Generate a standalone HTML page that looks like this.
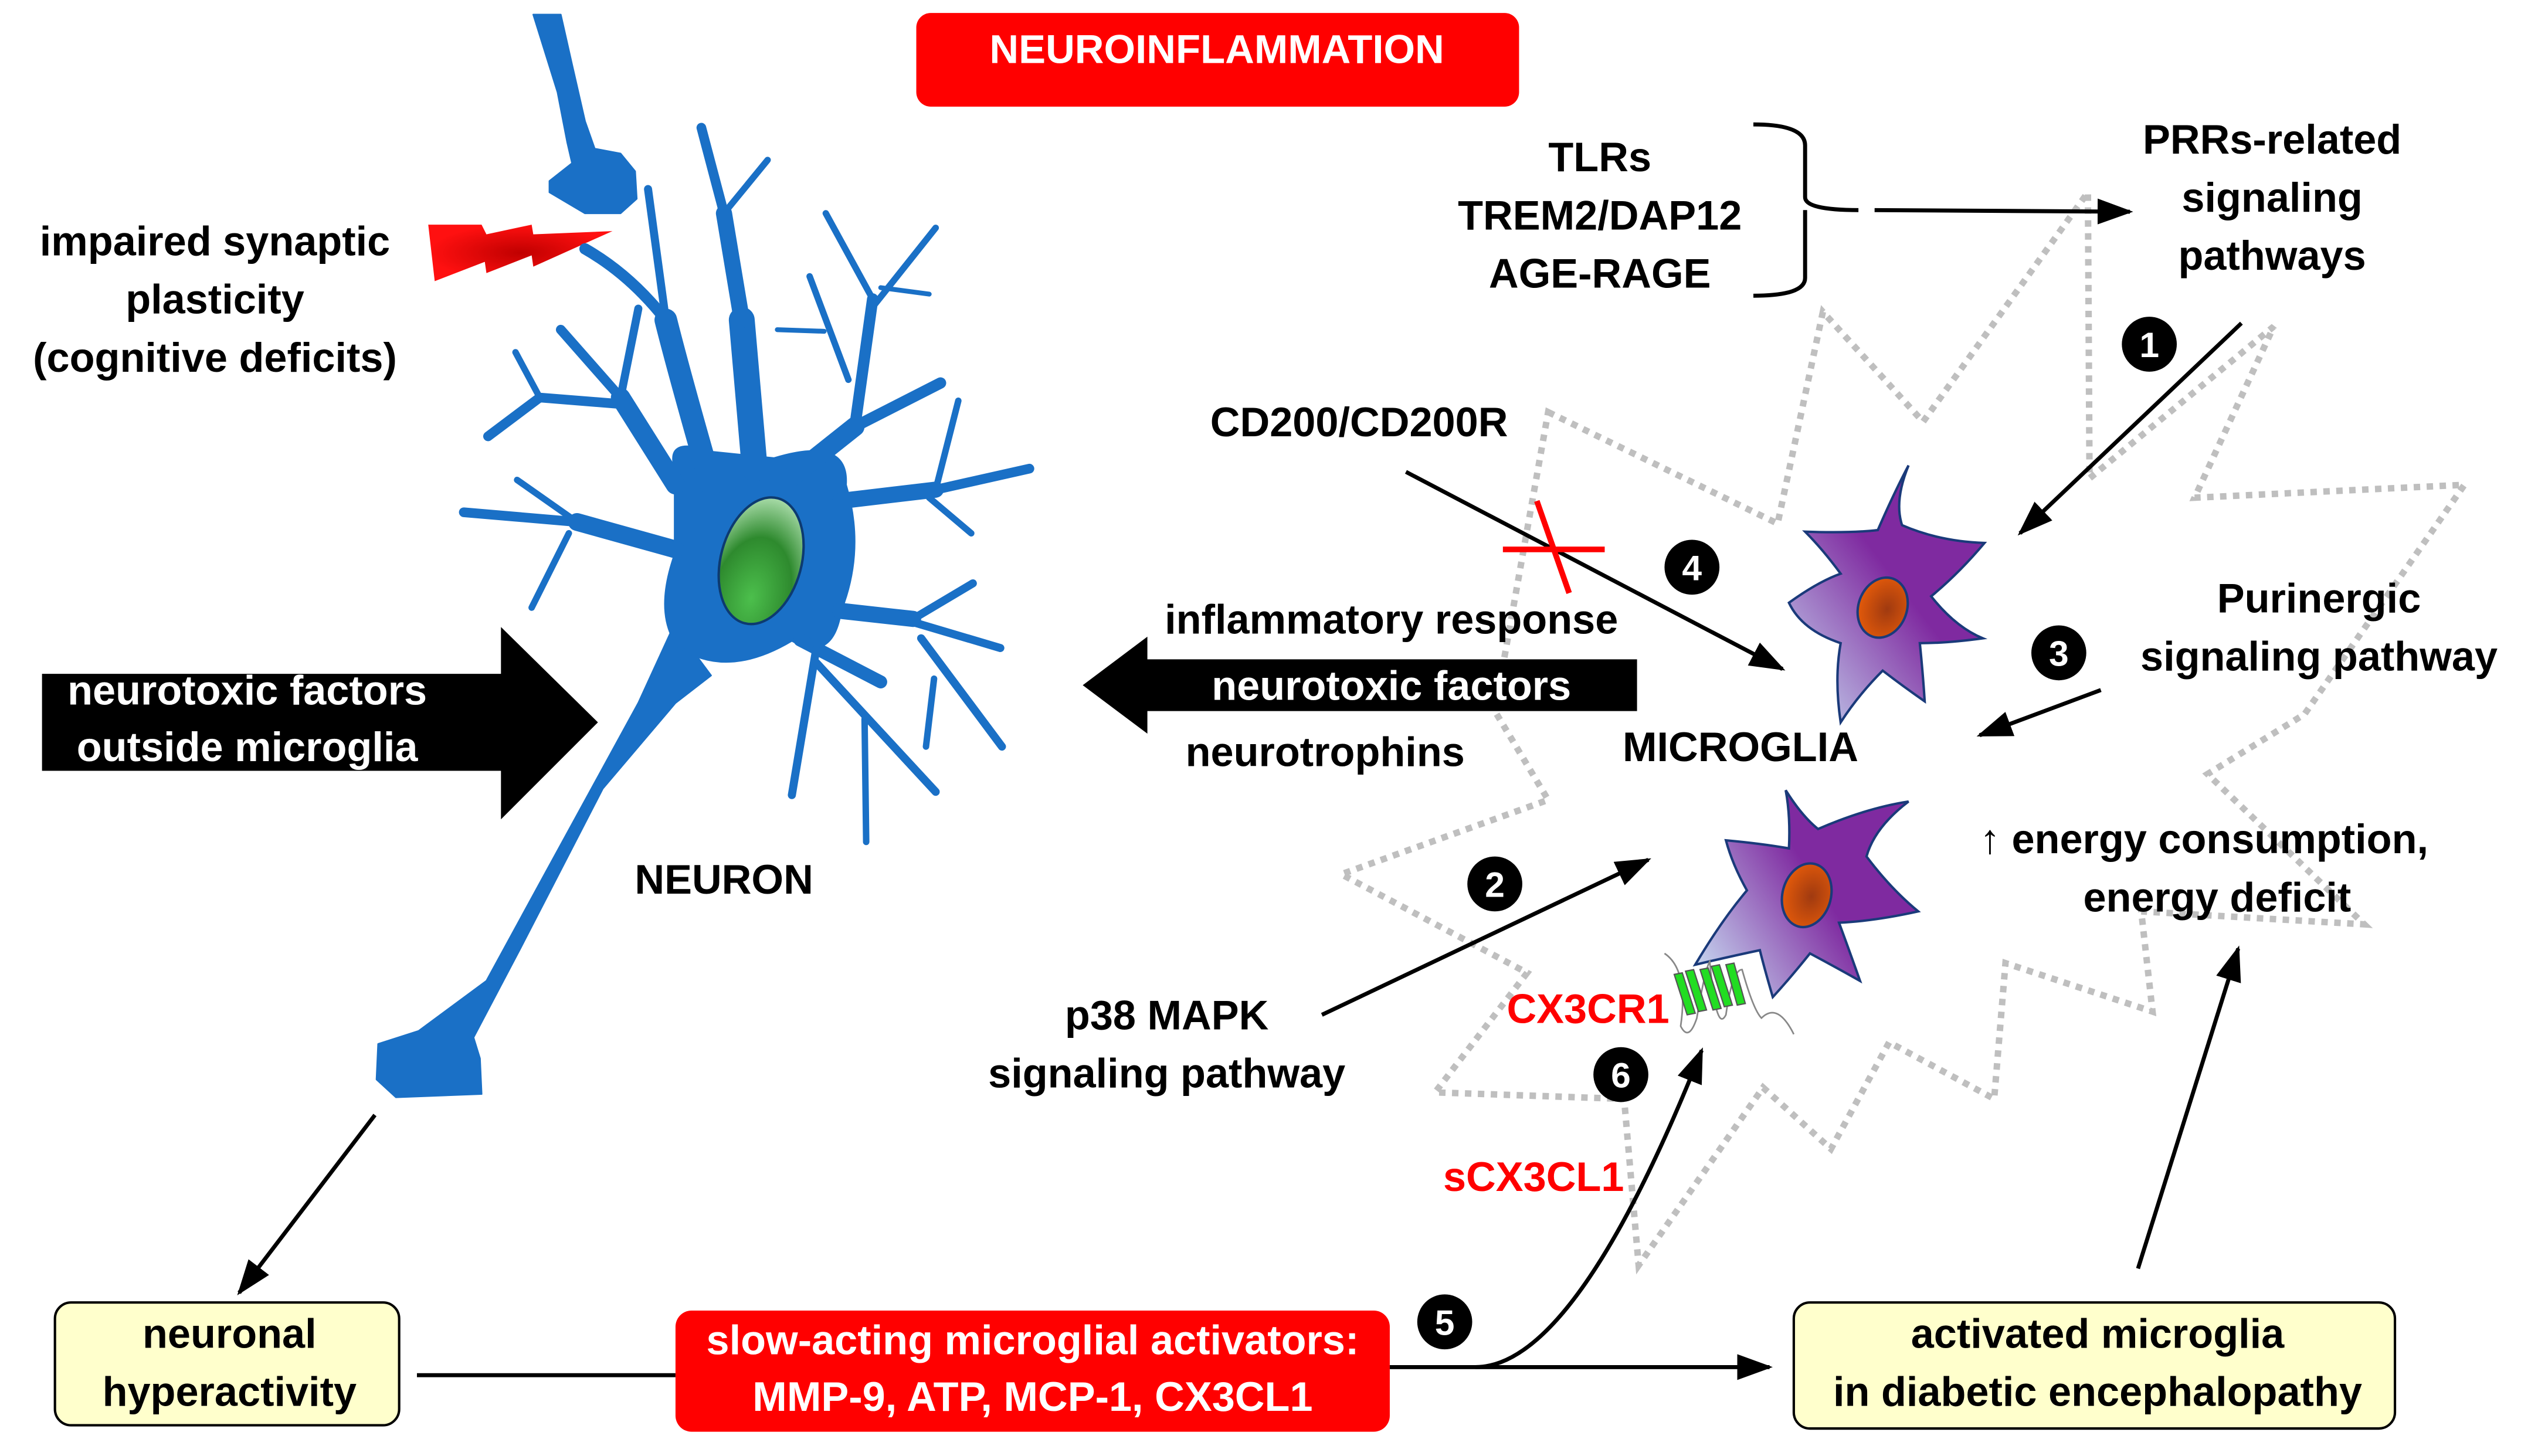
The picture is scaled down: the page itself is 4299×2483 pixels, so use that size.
<!DOCTYPE html>
<html><head><meta charset="utf-8"><style>
html,body{margin:0;padding:0;background:#fff;}
svg{display:block;}
text{font-family:"Liberation Sans",sans-serif;font-weight:bold;}
</style></head><body>
<svg width="4299" height="2483" viewBox="0 0 1560 901" xmlns="http://www.w3.org/2000/svg">
<defs>
<marker id="ah2" markerWidth="22" markerHeight="16" refX="20" refY="8" orient="auto" markerUnits="userSpaceOnUse" viewBox="0 0 22 16">
<path d="M0,0 L22,8 L0,16 z" fill="#000"/></marker>
<linearGradient id="mg" x1="1" y1="0" x2="0" y2="1">
<stop offset="0.45" stop-color="#7f2aa0"/><stop offset="1" stop-color="#c8dcf2"/></linearGradient>
<linearGradient id="mg2" x1="1" y1="0.3" x2="0" y2="0.9">
<stop offset="0.4" stop-color="#7f2aa0"/><stop offset="1" stop-color="#c8dcf2"/></linearGradient>
<radialGradient id="nuc" cx="0.6" cy="0.5" r="0.6"><stop offset="0" stop-color="#a03a10"/><stop offset="1" stop-color="#e35a0a"/></radialGradient>
<radialGradient id="gn" cx="0.5" cy="0.8" r="0.8"><stop offset="0" stop-color="#4cbf4c"/><stop offset="0.6" stop-color="#2e8a2e"/><stop offset="1" stop-color="#a9dca9"/></radialGradient>
<radialGradient id="lg" cx="0.5" cy="0.5" r="0.5"><stop offset="0" stop-color="#c00000"/><stop offset="1" stop-color="#ff1010"/></radialGradient>
</defs>

<polygon points="958,255 1100,324 1128,193 1190,261 1292,119 1293,296 1407,202 1358,308 1525,300 1426,442 1366,479 1463,572 1325,564 1332,626 1241,596 1234,680 1169,645 1133,711 1091,673 1014,783 1005,680 888,676 945,602 830,541 958,495 925,440" fill="none" stroke="#bfbfbf" stroke-width="4" stroke-dasharray="4,4"/>

<rect x="567" y="8" width="373" height="58" rx="9" fill="#ff0000"/>
<text x="753" y="39" font-size="25" fill="#fff" text-anchor="middle">NEUROINFLAMMATION</text>

<g font-size="25.5" text-anchor="middle" fill="#000">
<text x="133" y="158">impaired synaptic</text>
<text x="133" y="194">plasticity</text>
<text x="133" y="230">(cognitive deficits)</text>
<text x="448" y="553">NEURON</text>
</g>

<polygon points="265,139 298,139 301,145 329,139 330,145 379,143 330,165 329,158 301,169 300,162 269,174" fill="url(#lg)"/>

<!-- neuron -->
<g fill="#1a70c6" stroke="#1a70c6" stroke-linecap="round" stroke-linejoin="round">
<polygon points="330,9 347,9 354,40 362,75 368,92 384,95 393,106 394,123 384,132 362,132 340,119 340,112 354,101 351,88 345,57" stroke-width="1"/>
<polygon points="417,387 395,435 337,541 301,607 259,638 234,646 233,668 245,679 298,677 297,655 293,642 323,585 373,488 418,435 440,418" stroke-width="1"/>
<path d="M418,290 Q412,270 440,280 L479,284 Q525,270 523,300 Q535,340 520,378 Q515,410 490,396 Q450,420 420,400 Q405,380 418,343 Z" stroke-width="2"/>
<g fill="none">
<path d="M467,290 L459,198" stroke-width="16"/>
<path d="M459,198 L448,132" stroke-width="10"/>
<path d="M448,132 L434,79" stroke-width="6"/>
<path d="M448,132 L475,99" stroke-width="4"/>
<path d="M440,300 Q420,230 412,198" stroke-width="14"/>
<path d="M412,198 Q390,170 362,154" stroke-width="7"/>
<path d="M412,198 L401,117" stroke-width="5"/>
<path d="M418,300 L384,246" stroke-width="12"/>
<path d="M384,246 L347,204" stroke-width="6"/>
<path d="M384,246 L395,191" stroke-width="5"/>
<path d="M384,250 L334,246 L302,270" stroke-width="6"/>
<path d="M334,246 L319,218" stroke-width="4"/>
<path d="M418,340 L357,323" stroke-width="11"/>
<path d="M357,323 L287,317" stroke-width="6"/>
<path d="M357,323 L320,297" stroke-width="4"/>
<path d="M352,330 L329,376" stroke-width="4"/>
<path d="M490,295 L529,264" stroke-width="12"/>
<path d="M529,264 L582,237" stroke-width="7"/>
<path d="M529,264 L540,185" stroke-width="7"/>
<path d="M540,185 L511,132" stroke-width="4"/>
<path d="M540,190 L579,141" stroke-width="4"/>
<path d="M545,178 L575,182" stroke-width="3"/>
<path d="M525,235 L501,171" stroke-width="4"/>
<path d="M510,205 L481,204" stroke-width="3"/>
<path d="M520,310 L579,303" stroke-width="10"/>
<path d="M579,303 L637,290" stroke-width="6"/>
<path d="M579,303 L593,248" stroke-width="4"/>
<path d="M575,308 L601,330" stroke-width="4"/>
<path d="M520,378 L565,383" stroke-width="10"/>
<path d="M565,383 L602,361" stroke-width="5"/>
<path d="M565,385 L619,401" stroke-width="5"/>
<path d="M570,395 L620,462" stroke-width="5"/>
<path d="M578,420 L573,462" stroke-width="4"/>
<path d="M495,396 L545,422" stroke-width="8"/>
<path d="M505,402 L490,492" stroke-width="5"/>
<path d="M505,410 L579,490" stroke-width="5"/>
<path d="M535,445 L536,521" stroke-width="4"/>
</g>
</g>
<ellipse cx="471" cy="347" rx="25" ry="40" transform="rotate(15 471 347)" fill="url(#gn)" stroke="#0d3a70" stroke-width="1.5"/>

<polygon points="26,417 310,417 310,388 370,447 310,507 310,477 26,477" fill="#000"/>
<text x="153" y="436" font-size="25.5" fill="#fff" text-anchor="middle">neurotoxic factors</text>
<text x="153" y="471" font-size="25.5" fill="#fff" text-anchor="middle">outside microglia</text>

<polygon points="670,424 710,394 710,408 1013,408 1013,440 710,440 710,454" fill="#000"/>
<g font-size="25.5" text-anchor="middle">
<text x="861" y="392">inflammatory response</text>
<text x="861" y="433" fill="#fff">neurotoxic factors</text>
<text x="820" y="474">neurotrophins</text>
<text x="990" y="106">TLRs</text>
<text x="990" y="142">TREM2/DAP12</text>
<text x="990" y="178">AGE-RAGE</text>
<text x="1406" y="95">PRRs-related</text>
<text x="1406" y="131">signaling</text>
<text x="1406" y="167">pathways</text>
<text x="841" y="270">CD200/CD200R</text>
<text x="1435" y="379">Purinergic</text>
<text x="1435" y="415">signaling pathway</text>
<text x="1077" y="471">MICROGLIA</text>
<text x="722" y="637">p38 MAPK</text>
<text x="722" y="673">signaling pathway</text>
<text x="1372" y="564">energy deficit</text>
<text x="1225" y="528" text-anchor="start">↑ energy consumption,</text>
</g>
<text x="1033" y="633" font-size="25.5" fill="#ff0000" text-anchor="end">CX3CR1</text>
<text x="949" y="737" font-size="25.5" fill="#ff0000" text-anchor="middle">sCX3CL1</text>

<path d="M1085,77 Q1117,77 1117,90 L1117,122 Q1117,130 1150,130 M1117,130 Q1117,138 1117,146 L1117,172 Q1117,183 1085,183" fill="none" stroke="#000" stroke-width="2.5"/>
<line x1="1160" y1="130" x2="1318" y2="131" stroke="#000" stroke-width="2.5" marker-end="url(#ah2)"/>

<g stroke="#000" stroke-width="2.5" fill="none" marker-end="url(#ah2)">
<line x1="1387" y1="200" x2="1250" y2="330"/>
<line x1="870" y1="292" x2="1103" y2="414"/>
<line x1="1300" y1="427" x2="1225" y2="455"/>
<line x1="818" y1="628" x2="1020" y2="532"/>
<line x1="1323" y1="785" x2="1385" y2="587"/>
<line x1="232" y1="690" x2="148" y2="800"/>
<line x1="860" y1="846" x2="1095" y2="846"/>
<path d="M913,846 Q975,846 1053,650"/>
</g>
<line x1="258" y1="851" x2="418" y2="851" stroke="#000" stroke-width="2.5"/>

<line x1="930" y1="340" x2="993" y2="340" stroke="#ff0000" stroke-width="3.5"/>
<line x1="951" y1="310" x2="971" y2="367" stroke="#ff0000" stroke-width="3.5"/>

<g font-size="22" text-anchor="middle" fill="#fff">
<circle cx="1330" cy="213" r="17" fill="#000"/><text x="1330" y="221">1</text>
<circle cx="925" cy="547" r="17" fill="#000"/><text x="925" y="555">2</text>
<circle cx="1274" cy="404" r="17" fill="#000"/><text x="1274" y="412">3</text>
<circle cx="1047" cy="351" r="17" fill="#000"/><text x="1047" y="359">4</text>
<circle cx="894" cy="818" r="17" fill="#000"/><text x="894" y="826">5</text>
<circle cx="1003" cy="665" r="17" fill="#000"/><text x="1003" y="673">6</text>
</g>

<path d="M1181,288 Q1172,310 1177,325 Q1200,335 1228,336 Q1212,355 1195,369 Q1210,388 1227,395 Q1205,398 1188,398 Q1190,418 1191,434 Q1178,425 1165,415 Q1150,430 1139,447 Q1135,420 1139,398 Q1115,390 1107,373 Q1125,360 1139,355 Q1128,340 1117,329 Q1145,330 1162,328 Q1172,305 1181,288 Z" fill="url(#mg)" stroke="#1a3a7a" stroke-width="1.5"/>
<ellipse cx="1165" cy="376" rx="15" ry="19" transform="rotate(20 1165 376)" fill="url(#nuc)" stroke="#1a3a7a" stroke-width="1.5"/>

<path d="M1105,489 Q1115,505 1125,513 Q1155,500 1181,496 Q1160,512 1155,530 Q1170,550 1187,564 Q1160,570 1138,571 Q1145,590 1151,607 Q1135,598 1120,590 Q1108,605 1097,617 Q1092,600 1089,588 Q1070,592 1049,597 Q1065,570 1081,551 Q1072,535 1068,520 Q1090,522 1107,525 Q1108,505 1105,489 Z" fill="url(#mg2)" stroke="#1a3a7a" stroke-width="1.5"/>
<ellipse cx="1118" cy="554" rx="15" ry="20" transform="rotate(15 1118 554)" fill="url(#nuc)" stroke="#1a3a7a" stroke-width="1.5"/>

<g stroke="#888" stroke-width="1" fill="none">
<path d="M1030,590 Q1045,600 1040,635 Q1045,645 1050,630 Q1055,600 1058,595 Q1062,640 1068,628 Q1072,600 1078,600 Q1085,625 1090,630 Q1100,620 1110,640"/>
</g>
<g fill="#22dd22" stroke="#555" stroke-width="0.8">
<polygon points="1036,603 1041,602 1049,627 1044,628"/>
<polygon points="1043,601 1048,600 1056,625 1051,626"/>
<polygon points="1052,600 1057,599 1065,624 1060,625"/>
<polygon points="1059,598 1064,597 1072,622 1067,623"/>
<polygon points="1068,597 1073,596 1080,621 1075,622"/>
</g>

<rect x="34" y="806" width="213" height="76" rx="10" fill="#ffffcc" stroke="#000" stroke-width="1.5"/>
<g font-size="25.5" text-anchor="middle">
<text x="142" y="834">neuronal</text>
<text x="142" y="870">hyperactivity</text>
</g>
<rect x="418" y="811" width="442" height="75" rx="10" fill="#ff0000"/>
<g font-size="25.5" text-anchor="middle" fill="#fff">
<text x="639" y="838">slow-acting microglial activators:</text>
<text x="639" y="873">MMP-9, ATP, MCP-1, CX3CL1</text>
</g>
<rect x="1110" y="806" width="372" height="78" rx="10" fill="#ffffcc" stroke="#000" stroke-width="1.5"/>
<g font-size="25.5" text-anchor="middle">
<text x="1298" y="834">activated microglia</text>
<text x="1298" y="870">in diabetic encephalopathy</text>
</g>
</svg>
</body></html>
